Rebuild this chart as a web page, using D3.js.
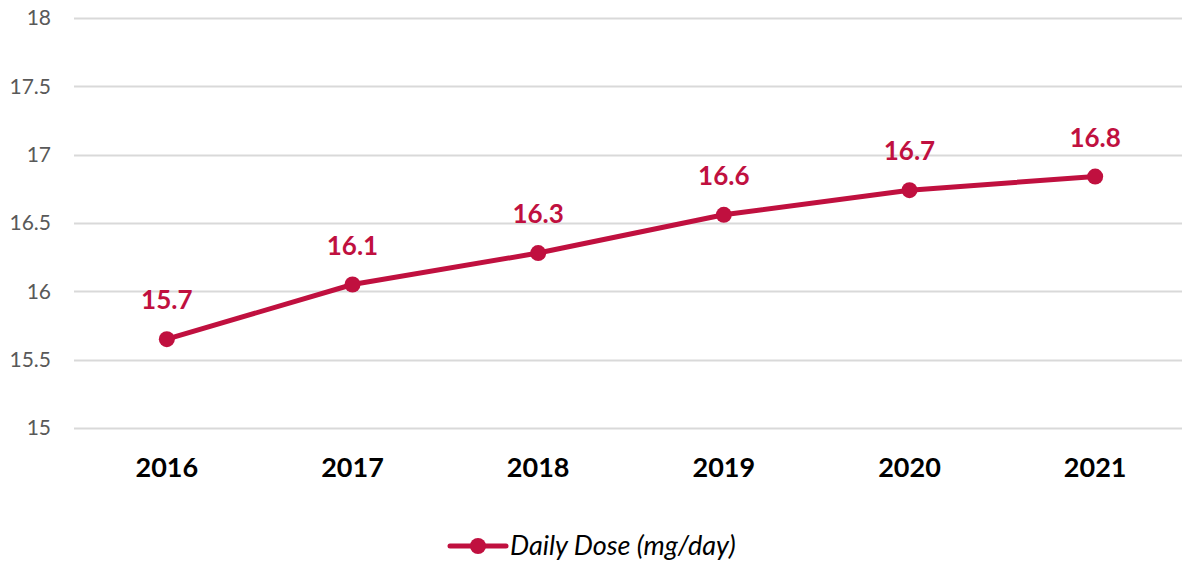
<!DOCTYPE html>
<html>
<head>
  <meta charset="utf-8">
  <title>Daily Dose</title>
  <script src="https://d3js.org/d3.v7.min.js"></script>
  <style>
    body { margin: 0; background: #fff; }
    svg text { font-family: Lato, "Open Sans", sans-serif; }
  </style>
</head>
<body>
  <svg id="chart" width="1182" height="563"></svg>
  <script>
    var years = ['2016', '2017', '2018', '2019', '2020', '2021'];
    var dose = [15.65, 16.05, 16.28, 16.56, 16.74, 16.84];
    var doseLabels = ['15.7', '16.1', '16.3', '16.6', '16.7', '16.8'];
    var yTicks = [15, 15.5, 16, 16.5, 17, 17.5, 18];
    var seriesName = 'Daily Dose (mg/day)';

    var red = '#c0103f';
    var margin = { top: 18, left: 74, right: -6, bottom: 135 };

    var svg = d3.select('#chart');
    var width = +svg.attr('width') - margin.left - margin.right;
    var height = +svg.attr('height') - margin.top - margin.bottom;

    var x = d3.scaleBand()
      .domain(years)
      .range([margin.left, margin.left + width]);
    var y = d3.scaleLinear()
      .domain([15, 18])
      .range([margin.top + height, margin.top]);

    // gridlines
    svg.append('g')
      .selectAll('line')
      .data(yTicks)
      .join('line')
      .attr('x1', margin.left)
      .attr('x2', margin.left + width)
      .attr('y1', function(d) { return Math.round(y(d)) + 0.5; })
      .attr('y2', function(d) { return Math.round(y(d)) + 0.5; })
      .attr('stroke', '#d9d9d9')
      .attr('stroke-width', 2);

    // y axis labels
    var yAxis = svg.append('g')
      .attr('transform', 'translate(' + (margin.left - 23) + ',0)')
      .call(d3.axisLeft(y).tickValues(yTicks).tickSize(0).tickPadding(0)
        .tickFormat(function(d) { return String(d); }));
    yAxis.select('.domain').remove();
    yAxis.selectAll('text')
      .attr('fill', '#595959')
      .attr('font-size', 21)
      .style('font-family', 'Lato, "Open Sans", sans-serif');

    // x axis labels
    var xAxis = svg.append('g')
      .attr('transform', 'translate(0,' + (margin.top + height) + ')')
      .call(d3.axisBottom(x).tickSize(0).tickPadding(30));
    xAxis.select('.domain').remove();
    xAxis.selectAll('text')
      .attr('fill', '#000')
      .attr('font-size', 27)
      .attr('font-weight', 'bold')
      .style('font-family', 'Lato, "Open Sans", sans-serif');

    var cx = function(d, i) { return x(years[i]) + x.bandwidth() / 2; };

    var line = d3.line()
      .x(cx)
      .y(function(d) { return y(d); });

    svg.append('path')
      .datum(dose)
      .attr('d', line)
      .attr('fill', 'none')
      .attr('stroke', red)
      .attr('stroke-width', 5)
      .attr('stroke-linejoin', 'round');

    svg.append('g')
      .selectAll('circle')
      .data(dose)
      .join('circle')
      .attr('cx', cx)
      .attr('cy', function(d) { return y(d); })
      .attr('r', 8)
      .attr('fill', red);

    svg.append('g')
      .selectAll('text')
      .data(dose)
      .join('text')
      .attr('x', cx)
      .attr('y', function(d) { return y(d) - 30; })
      .attr('text-anchor', 'middle')
      .attr('fill', red)
      .attr('font-size', 26)
      .attr('font-weight', 'bold')
      .text(function(d, i) { return doseLabels[i]; });

    // legend
    var lg = svg.append('g').attr('transform', 'translate(450,546)');
    lg.append('line')
      .attr('x1', 0).attr('x2', 56)
      .attr('stroke', red).attr('stroke-width', 5)
      .attr('stroke-linecap', 'round');
    lg.append('circle').attr('cx', 28).attr('r', 8).attr('fill', red);
    lg.append('text')
      .attr('x', 60)
      .attr('dy', '0.35em')
      .attr('font-size', 27)
      .attr('font-style', 'italic')
      .attr('fill', '#000')
      .text(seriesName);
  </script>
</body>
</html>
